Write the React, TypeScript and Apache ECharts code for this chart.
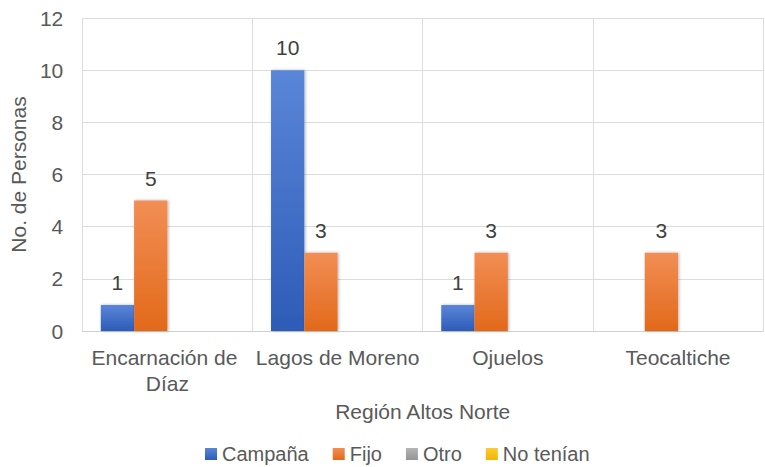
import React, { useEffect, useRef } from "react";
import * as echarts from "echarts";

const categories = ["Encarnación de Díaz", "Lagos de Moreno", "Ojuelos", "Teocaltiche"];
const seriesNames = ["Campaña", "Fijo", "Otro", "No tenían"];
const campana = [1, 10, 1, 0];
const fijo = [5, 3, 3, 3];
const otro = [0, 0, 0, 0];
const noTenian = [0, 0, 0, 0];
const yTicks = { min: 0, max: 12, interval: 2 };

const FONT = "'Liberation Sans', Arial, sans-serif";
const TEXT = "#595959";

function grad(top: string, bottom: string) {
  return new echarts.graphic.LinearGradient(0, 0, 0, 1, [
    { offset: 0, color: top },
    { offset: 1, color: bottom },
  ]);
}

export default function App() {
  const ref = useRef<HTMLDivElement>(null);
  useEffect(() => {
    if (!ref.current) return;
    const chart = echarts.init(ref.current, undefined, { renderer: "svg" });
    const colors = [
      grad("#5A86D8", "#2D5BB7"),
      grad("#F28E55", "#E2691A"),
      grad("#B5B5B5", "#959595"),
      grad("#FFCB33", "#F0B400"),
    ];
    const datas = [campana, fijo, otro, noTenian];
    chart.setOption({
      animation: false,
      textStyle: { fontFamily: FONT },
      grid: { left: 74, top: 18, width: 697, height: 313, containLabel: false },
      legend: {
        data: seriesNames,
        top: 439,
        left: 200,
        icon: "rect",
        itemWidth: 12,
        itemHeight: 12,
        itemGap: 24,
        textStyle: { fontSize: 20, color: TEXT, fontFamily: FONT },
      },
      xAxis: {
        type: "category",
        data: categories,
        name: "Región Altos Norte",
        nameLocation: "middle",
        nameGap: 63,
        nameTextStyle: { fontSize: 21, color: TEXT, fontFamily: FONT },
        axisLine: { lineStyle: { color: "#d0d0d0", width: 1 } },
        axisTick: { show: false },
        splitLine: { show: true, lineStyle: { color: "#dcdcdc" } },
        axisLabel: {
          interval: 0,
          fontSize: 21,
          color: TEXT,
          fontFamily: FONT,
          width: 172,
          overflow: "break",
          lineHeight: 26,
          margin: 13,
        },
      },
      yAxis: {
        type: "value",
        min: yTicks.min,
        max: yTicks.max,
        interval: yTicks.interval,
        name: "No. de Personas",
        nameLocation: "middle",
        nameGap: 46,
        nameTextStyle: { fontSize: 21, color: TEXT, fontFamily: FONT },
        axisLine: { show: false },
        axisTick: { show: false },
        splitLine: { lineStyle: { color: "#dcdcdc" } },
        axisLabel: { fontSize: 21, color: TEXT, fontFamily: FONT, margin: 19 },
      },
      series: seriesNames.map((name, i) => ({
        name,
        type: "bar",
        data: datas[i],
        barGap: "0%",
        barCategoryGap: "21.8%",
        itemStyle: {
          color: colors[i],
          shadowBlur: 3,
          shadowColor: "rgba(0,0,0,0.3)",
          shadowOffsetX: 1,
          shadowOffsetY: 0,
        },
        label: {
          show: true,
          position: "top",
          distance: 12,
          fontSize: 21,
          color: "#404040",
          fontFamily: FONT,
          formatter: (p: any) => (p.value ? String(p.value) : ""),
        },
      })),
    });
    return () => chart.dispose();
  }, []);
  return (
    <div
      ref={ref}
      style={{ position: "absolute", left: 0, top: 0, width: 765, height: 467, background: "#fff" }}
    />
  );
}
